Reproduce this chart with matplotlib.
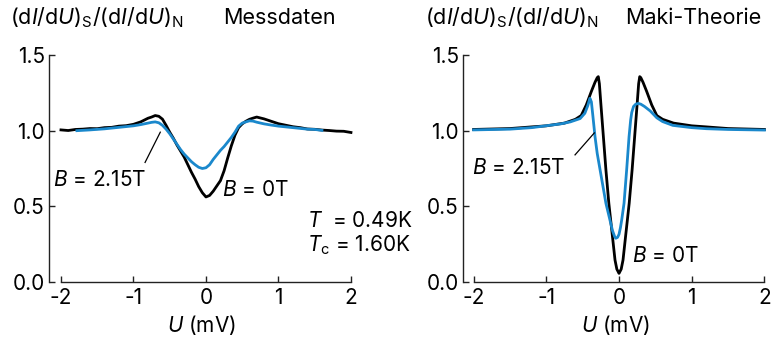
import matplotlib
matplotlib.use("Agg")
import matplotlib.pyplot as plt

FONT = 'Inter'
plt.rcParams['font.family'] = [FONT, 'DejaVu Sans']
plt.rcParams['mathtext.fontset'] = 'custom'
plt.rcParams['mathtext.rm'] = FONT
plt.rcParams['mathtext.it'] = FONT + ':italic'
plt.rcParams['mathtext.bf'] = FONT + ':bold'

# ---- Messdaten (measured), B = 0 T ----
meas_b0_u = [-2.00, -1.90, -1.80, -1.70, -1.60, -1.50, -1.40, -1.30, -1.20, -1.10,
             -1.00, -0.90, -0.80, -0.75, -0.70, -0.65, -0.60, -0.55, -0.50, -0.45,
             -0.40, -0.35, -0.30, -0.25, -0.20, -0.15, -0.10, -0.05, 0.00, 0.05,
             0.10, 0.15, 0.20, 0.25, 0.30, 0.35, 0.40, 0.45, 0.50, 0.55,
             0.60, 0.65, 0.70, 0.75, 0.80, 0.90, 1.00, 1.10, 1.20, 1.30,
             1.40, 1.50, 1.60, 1.70, 1.80, 1.90, 2.00]
meas_b0_g = [1.005, 1.001, 1.008, 1.010, 1.014, 1.013, 1.020, 1.022, 1.030, 1.033,
             1.042, 1.058, 1.082, 1.090, 1.100, 1.095, 1.076, 1.035, 0.990, 0.950,
             0.905, 0.865, 0.825, 0.775, 0.725, 0.680, 0.630, 0.590, 0.562, 0.572,
             0.600, 0.635, 0.670, 0.735, 0.820, 0.900, 0.970, 1.020, 1.045, 1.062,
             1.075, 1.083, 1.090, 1.084, 1.078, 1.062, 1.046, 1.036, 1.026, 1.020,
             1.011, 1.009, 1.004, 1.001, 0.997, 0.996, 0.988]

# ---- Messdaten (measured), B = 2.15 T ----
meas_b2_u = [-1.78, -1.60, -1.40, -1.20, -1.00, -0.90, -0.80, -0.75, -0.70, -0.65,
             -0.60, -0.55, -0.50, -0.45, -0.40, -0.35, -0.30, -0.25, -0.20, -0.15,
             -0.10, -0.05, 0.00, 0.05, 0.10, 0.15, 0.20, 0.25, 0.30, 0.35,
             0.40, 0.45, 0.50, 0.55, 0.60, 0.65, 0.70, 0.80, 0.90, 1.00,
             1.10, 1.20, 1.30, 1.40, 1.50, 1.60]
meas_b2_g = [1.000, 1.005, 1.012, 1.022, 1.032, 1.040, 1.050, 1.055, 1.058, 1.052,
             1.035, 1.010, 0.980, 0.945, 0.910, 0.875, 0.845, 0.820, 0.795, 0.775,
             0.758, 0.750, 0.755, 0.775, 0.810, 0.840, 0.870, 0.895, 0.925, 0.955,
             0.990, 1.030, 1.050, 1.058, 1.065, 1.063, 1.056, 1.045, 1.037, 1.030,
             1.025, 1.020, 1.015, 1.010, 1.008, 1.002]

# ---- Maki-Theorie, B = 0 T ----
maki_b0_u = [-2.00, -1.50, -1.20, -1.00, -0.75, -0.60, -0.52, -0.45, -0.38, -0.33,
             -0.30, -0.285, -0.27, -0.25, -0.215, -0.18, -0.14, -0.09, -0.055, -0.03,
             0.00, 0.03, 0.055, 0.09, 0.14, 0.18, 0.215, 0.25, 0.27, 0.285,
             0.30, 0.33, 0.38, 0.45, 0.52, 0.60, 0.75, 1.00, 1.20, 1.50, 2.00]
maki_b0_g = [1.008, 1.014, 1.025, 1.032, 1.050, 1.075, 1.100, 1.170, 1.260, 1.320,
             1.350, 1.357, 1.310, 1.180, 0.960, 0.740, 0.520, 0.300, 0.145, 0.085,
             0.057, 0.085, 0.145, 0.300, 0.520, 0.740, 0.960, 1.180, 1.310, 1.357,
             1.350, 1.320, 1.260, 1.170, 1.100, 1.075, 1.050, 1.032, 1.025, 1.014, 1.008]

# ---- Maki-Theorie, B = 2.15 T ----
maki_b2_u = [-2.00, -1.50, -1.20, -0.80, -0.67, -0.535, -0.47, -0.43, -0.40, -0.38,
             -0.36, -0.33, -0.30, -0.26, -0.22, -0.18, -0.125, -0.09, -0.06, -0.045,
             -0.02, 0.00, 0.02, 0.037, 0.069, 0.105, 0.138, 0.16, 0.175, 0.20,
             0.23, 0.265, 0.30, 0.35, 0.43, 0.52, 0.60, 0.74, 1.00, 1.20, 1.50, 2.00]
maki_b2_g = [1.005, 1.010, 1.020, 1.045, 1.058, 1.080, 1.115, 1.165, 1.214, 1.190,
             1.100, 0.960, 0.850, 0.740, 0.630, 0.520, 0.410, 0.340, 0.300, 0.289,
             0.295, 0.315, 0.360, 0.410, 0.520, 0.740, 0.960, 1.070, 1.120, 1.160,
             1.175, 1.180, 1.175, 1.160, 1.130, 1.085, 1.060, 1.035, 1.020, 1.013, 1.008, 1.004]

xticks = [-2, -1, 0, 1, 2]
xtick_labels = ['-2', '-1', '0', '1', '2']
yticks = [0.0, 0.5, 1.0, 1.5]
ytick_labels = ['0.0', '0.5', '1.0', '1.5']

BLACK = '#000000'
BLUE = '#1a88cc'
W, H = 781, 347

fig = plt.figure(figsize=(W / 100, H / 100), dpi=100)

def make_axes(left_px, x0, px_per_unit):
    ax = fig.add_axes([left_px / W, 65 / H, (2.05 - x0) * px_per_unit / W, 227 / H])
    ax.set_xlim(x0, 2.05)
    ax.set_ylim(0, 1.5)
    for s in ['top', 'right']:
        ax.spines[s].set_visible(False)
    ax.spines['bottom'].set_bounds(-2, 2)
    ax.spines['left'].set_bounds(0, 1.5)
    for s in ['bottom', 'left']:
        ax.spines[s].set_linewidth(1.0)
        ax.spines[s].set_color('#222222')
    ax.set_xticks(xticks)
    ax.set_xticklabels(xtick_labels)
    ax.set_yticks(yticks)
    ax.set_yticklabels(ytick_labels)
    ax.tick_params(direction='in', length=4, width=1.0, labelsize=15, color='#222222')
    ax.tick_params(axis='y', pad=3)
    ax.tick_params(axis='x', pad=4)
    ax.set_xlabel('$U$ (mV)', fontsize=15, labelpad=4)
    ax.patch.set_alpha(0)
    return ax

axL = make_axes(49, -2.165, 72.5)
axR = make_axes(463, -2.146, 72.7)

lw = 2.0
axL.plot(meas_b0_u, meas_b0_g, color=BLACK, lw=lw, solid_joinstyle='round')
axL.plot(meas_b2_u, meas_b2_g, color=BLUE, lw=lw, solid_joinstyle='round')
axR.plot(maki_b0_u, maki_b0_g, color=BLACK, lw=lw, solid_joinstyle='round')
axR.plot(maki_b2_u, maki_b2_g, color=BLUE, lw=lw, solid_joinstyle='round')

fs = 15
# Left annotations
axL.text(-2.11, 0.675, '$B$ = 2.15T', fontsize=fs, va='center', ha='left')
axL.plot([-0.84, -0.63], [0.79, 0.99], color=BLACK, lw=0.9)
axL.text(0.22, 0.61, '$B$ = 0T', fontsize=fs, va='center', ha='left')
axL.text(1.39, 0.40, '$T$  = 0.49K', fontsize=fs, va='center', ha='left')
axL.text(1.39, 0.245, '$T_{\\rm c}$ = 1.60K', fontsize=fs, va='center', ha='left')

# Right annotations
axR.text(-2.02, 0.755, '$B$ = 2.15T', fontsize=fs, va='center', ha='left')
axR.plot([-0.605, -0.34], [0.84, 0.985], color=BLACK, lw=0.9)
axR.text(0.18, 0.17, '$B$ = 0T', fontsize=fs, va='center', ha='left')

ylab = '(d$I$/d$U$)$_{\\rm S}$/(d$I$/d$U$)$_{\\rm N}$'
fig.text(10 / W, 1 - 18 / H, ylab, fontsize=15.5, va='center', ha='left')
fig.text(223 / W, 1 - 18 / H, 'Messdaten', fontsize=15.5, va='center', ha='left')
fig.text(425 / W, 1 - 18 / H, ylab, fontsize=15.5, va='center', ha='left')
fig.text(625 / W, 1 - 18 / H, 'Maki-Theorie', fontsize=15.5, va='center', ha='left')

fig.savefig('out.png', dpi=100)
